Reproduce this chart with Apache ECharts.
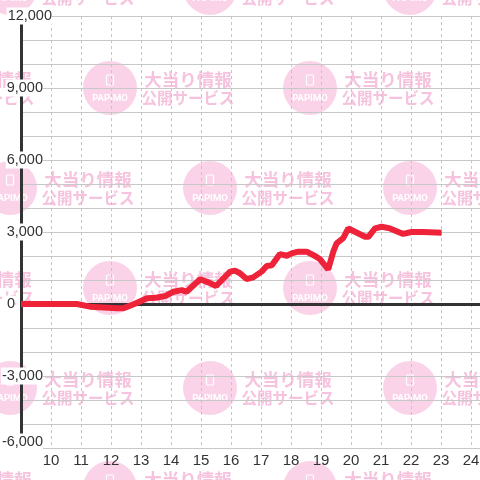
<!DOCTYPE html>
<html><head><meta charset="utf-8">
<script src="https://cdn.jsdelivr.net/npm/echarts@6/dist/echarts.min.js"></script>
<style>html,body{margin:0;padding:0;background:#fff}#c{width:480px;height:480px}</style>
</head><body><div id="c"></div>
<script>
// data
const hours = [9, 10.86, 11.3, 12.2, 12.4, 12.74, 13.2, 13.5, 13.8, 14.08, 14.36, 14.52, 14.97, 15.25, 15.5, 15.97, 16.13, 16.3, 16.52, 16.74, 17.02, 17.19, 17.36, 17.63, 17.86, 18.02, 18.24, 18.52, 18.8, 18.97, 19.24, 19.41, 19.52, 19.74, 19.91, 20.13, 20.47, 20.58, 20.8, 21.02, 21.3, 21.74, 22.02, 22.41, 23.02];
const balance = [0, 0, -110, -180, -180, -20, 240, 260, 330, 510, 580, 510, 1030, 900, 750, 1350, 1390, 1280, 1040, 1110, 1350, 1580, 1610, 2080, 2010, 2110, 2180, 2180, 2000, 1860, 1440, 2180, 2530, 2740, 3150, 3010, 2800, 2800, 3150, 3220, 3150, 2920, 3000, 3000, 2970];
const yTicks = [-6000, -3000, 0, 3000, 6000, 9000, 12000];
const xTicks = [10, 11, 12, 13, 14, 15, 16, 17, 18, 19, 20, 21, 22, 23, 24];
const zeroLine = 0;
const wmLine1 = '大当り情報';
const wmLine2 = '公開サービス';
const wmBrand = 'PAPIMO';

const chart = echarts.init(document.getElementById('c'));

// watermark tiles
const wm = [];
const centers = [];
for (let j = -1; j <= 4; j++) {
  const y = 88 + 100 * j;
  const off = (j % 2 === 0) ? 110 : 10;
  for (let x = off - 200; x <= 520; x += 200) centers.push([x, y]);
}
const pink = '#fbd3e9', pinkText = '#f6c3de';
centers.forEach(([cx, cy]) => {
  wm.push({type:'circle', z:-10, silent:true, shape:{cx, cy, r:27}, style:{fill:pink}});
  wm.push({type:'rect', z:-9, silent:true, shape:{x:cx-3.5, y:cy-13, width:7, height:10, r:1}, style:{fill:'none', stroke:'#fff', lineWidth:1.2}});
  wm.push({type:'text', z:-9, silent:true, x:cx, y:cy+11, style:{text:wmBrand, fill:'#fff', font:'bold 9.5px Roboto', align:'center', verticalAlign:'middle'}});
  wm.push({type:'text', z:-9, silent:true, x:cx+78, y:cy-9, style:{text:wmLine1, fill:pinkText, font:'bold 17.5px "Noto Sans CJK JP"', align:'center', verticalAlign:'middle'}});
  wm.push({type:'text', z:-9, silent:true, x:cx+78, y:cy+10, style:{text:wmLine2, fill:pinkText, font:'bold 15.5px "Noto Sans CJK JP"', align:'center', verticalAlign:'middle'}});
});

const fontFam = '"Liberation Sans", Arial, sans-serif';
const option = {
  backgroundColor: '#fff',
  animation: false,
  graphic: wm,
  grid: {left: 21, top: 16, width: 480, height: 432, containLabel: false, outerBoundsMode: 'none'},
  xAxis: {
    type: 'value', min: 9, max: 25, interval: 1, position: 'bottom',
    axisLine: {show: false}, axisTick: {show: false},
    axisLabel: {fontSize: 15, fontFamily: fontFam, color: '#333', margin: 5,
      formatter: v => xTicks.indexOf(v) >= 0 ? String(v) : ''},
    splitLine: {show: true, lineStyle: {color: '#c4c4c4', width: 1, type: [3, 3]}}
  },
  yAxis: {
    type: 'value', min: -6000, max: 12000, interval: 3000, position: 'left',
    axisLine: {show: true, lineStyle: {color: '#333', width: 3}},
    axisTick: {show: false},
    splitLine: {show: true, lineStyle: {color: '#c8c8c8', width: 1}},
    minorTick: {show: false, splitNumber: 3},
    minorSplitLine: {show: true, lineStyle: {color: '#c8c8c8', width: 1}},
    axisLabel: {
      margin: -31, align: 'right', fontSize: 14.5, fontFamily: fontFam, color: '#333',
      formatter: v => {
        if (yTicks.indexOf(v) < 0) return '';
        const s = v.toLocaleString('en-US');
        if (v === 12000) return '{t|' + s + '}';
        if (v === 0) return '{t|0}{z| }';
        if (v === -6000) return '{b|' + s + '}{s| }';
        return '{t|' + s + '}{s| }';
      },
      rich: {
        t: {backgroundColor: '#fff', padding: [1, 0, 1, 1], fontSize: 14.5, fontFamily: fontFam, color: '#333'},
        b: {backgroundColor: '#fff', padding: [1, 0, 13, 1], fontSize: 14.5, fontFamily: fontFam, color: '#333'},
        s: {width: 9, fontSize: 14.5},
        z: {width: 37, fontSize: 14.5}
      }
    }
  },
  series: [{
    type: 'line', z: 2, data: [], silent: true,
    markLine: {
      silent: true, symbol: 'none', z: 2, animation: false,
      label: {show: false},
      lineStyle: {color: '#333', width: 3, type: 'solid'},
      data: [{yAxis: zeroLine}]
    }
  }, {
    type: 'line', z: 10,
    data: hours.map((h, i) => [h, balance[i]]),
    showSymbol: false, symbol: 'none',
    lineStyle: {color: '#ee2238', width: 6},
    itemStyle: {color: '#ee2238'}
  }]
};
chart.setOption(option);
</script></body></html>
